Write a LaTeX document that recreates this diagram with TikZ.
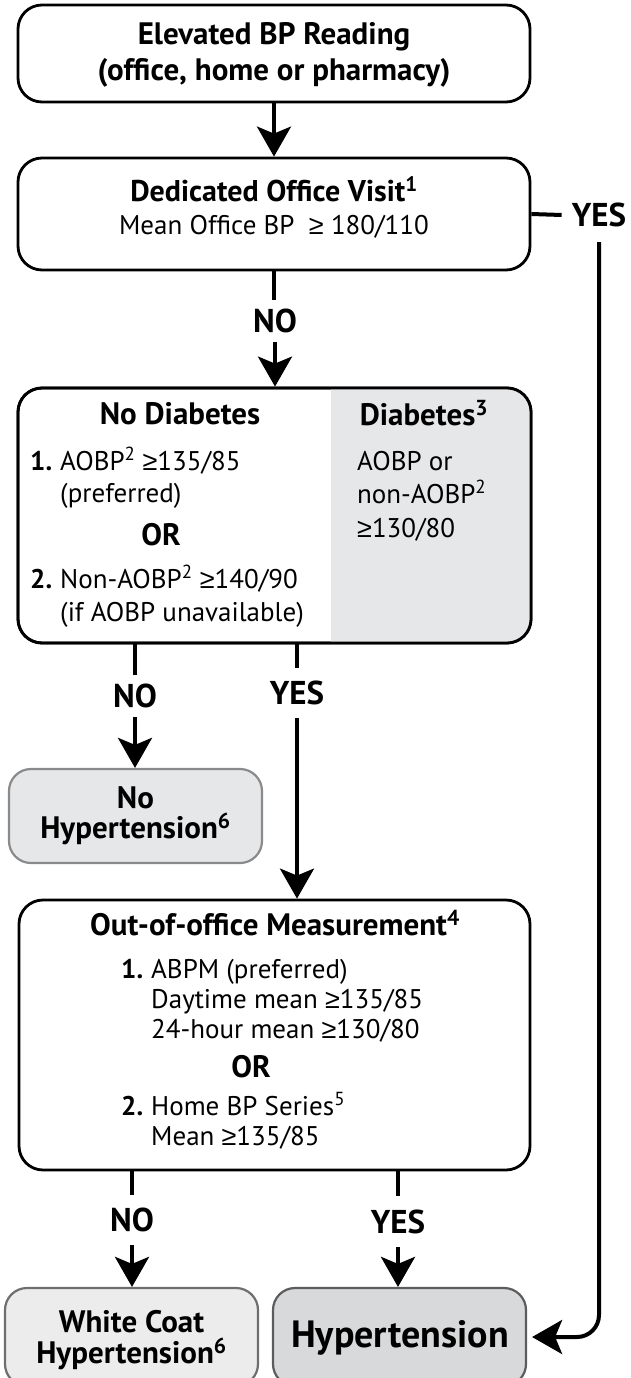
\documentclass[tikz,border=0pt]{standalone}
\usepackage{fontspec}
\setmainfont{PT Sans}
\newfontfamily\symfont{Liberation Sans}
\usetikzlibrary{arrows.meta}
\definecolor{diabgray}{HTML}{E6E7E8}
\definecolor{nohgray}{HTML}{E6E7E8}
\definecolor{nohborder}{HTML}{8A8A8A}
\definecolor{wcgray}{HTML}{ECECEC}
\definecolor{wcborder}{HTML}{6E6E6E}
\definecolor{hypgray}{HTML}{D8D9DB}
\definecolor{hypborder}{HTML}{5C5C5C}
\newcommand\sups[1]{\textsuperscript{#1}}
\newcommand\mygeq{{\symfont ≥}}
\tikzset{
  box/.style={draw, line width=2.8pt, rounded corners=24pt, fill=white, inner sep=0pt},
  endbox/.style={draw, line width=2.2pt, rounded corners=22pt, inner sep=0pt},
  body/.style={inner sep=0pt, font=\fontsize{27}{30}\selectfont},
  hd/.style={inner sep=0pt, font=\bfseries\fontsize{31}{34}\selectfont},
  num/.style={inner sep=0pt, font=\bfseries\fontsize{27}{30}\selectfont},
  lbl/.style={inner xsep=10pt, inner ysep=0pt, font=\bfseries\fontsize{33}{36}\selectfont},
  conn/.style={line width=4pt},
  arr/.style={line width=4pt, -{Stealth[length=30pt, width=34pt, inset=7pt]}},
}
\begin{document}
\begin{tikzpicture}[x=1pt, y=-1pt]
\useasboundingbox (0,0) rectangle (630,1378);
\clip (0,0) rectangle (630,1378);

% Box 1
\node[box, minimum width=512pt, minimum height=97pt] (b1) at (274,53.5) {};
\node[hd, anchor=base] (t1a) at (274,45) {Elevated BP Reading};
\node[hd, anchor=base] (t1b) at (274,81) {(office, home or pharmacy)};

% Box 2
\node[box, minimum width=512pt, minimum height=112pt] (b2) at (274,214) {};
\node[hd, font=\bfseries\fontsize{30}{33}\selectfont, anchor=base] (t2a) at (274,201) {Dedicated Office Visit\sups{1}};
\node[body, anchor=base] (t2b) at (274,234) {Mean Office BP\ \ \mygeq\ 180/110};

% Box 3
\node[box, minimum width=513pt, minimum height=255pt] (b3) at (274.5,515.5) {};
\begin{scope}
  \clip[rounded corners=24pt] (18,388) rectangle (531,643);
  \fill[diabgray] (331,388) rectangle (531,643);
\end{scope}
\node[draw, line width=2.8pt, rounded corners=24pt, inner sep=0pt, minimum width=513pt, minimum height=255pt] (b3frame) at (274.5,515.5) {};
\node[hd, anchor=base] (t3h1) at (180,424) {No Diabetes};
\node[hd, anchor=base] (t3h2) at (424,425) {Diabetes\sups{3}};
\node[num, anchor=base west] (t3n1) at (30,470) {1.};
\node[body, anchor=base west] (t3a) at (60,470) {AOBP\sups{2} \mygeq135/85};
\node[body, anchor=base west] (t3b) at (60,502) {(preferred)};
\node[hd, anchor=base] (t3or) at (161,545) {OR};
\node[num, anchor=base west] (t3n2) at (30,588) {2.};
\node[body, anchor=base west] (t3c) at (60,588) {Non-AOBP\sups{2} \mygeq140/90};
\node[body, anchor=base west] (t3d) at (60,621) {(if AOBP unavailable)};
\node[body, anchor=base west] (t3e) at (357,470) {AOBP or};
\node[body, anchor=base west] (t3f) at (357,503) {non-AOBP\sups{2}};
\node[body, anchor=base west] (t3g) at (357,537) {\mygeq130/80};

% No Hypertension
\node[endbox, draw=nohborder, fill=nohgray, minimum width=253pt, minimum height=94pt] (nohyp) at (135.5,816) {};
\node[hd, anchor=base] (tn1) at (135.5,808) {No};
\node[hd, anchor=base] (tn2) at (135.5,838) {Hypertension\sups{6}};

% Box 4
\node[box, minimum width=511pt, minimum height=270pt] (b4) at (274.5,1035) {};
\node[hd, anchor=base] (t4h) at (275,935) {Out-of-office Measurement\sups{4}};
\node[num, anchor=base west] (t4n1) at (121,978) {1.};
\node[body, anchor=base west] (t4a) at (151,978) {ABPM (preferred)};
\node[body, anchor=base west] (t4b) at (151,1008) {Daytime mean \mygeq135/85};
\node[body, anchor=base west] (t4c) at (151,1038) {24-hour mean \mygeq130/80};
\node[hd, anchor=base] (t4or) at (251,1077) {OR};
\node[num, anchor=base west] (t4n2) at (121,1115) {2.};
\node[body, anchor=base west] (t4d) at (151,1115) {Home BP Series\sups{5}};
\node[body, anchor=base west] (t4e) at (151,1145) {Mean \mygeq135/85};

% End boxes
\node[endbox, draw=wcborder, fill=wcgray, minimum width=253pt, minimum height=98pt] (wc) at (131.5,1337) {};
\node[hd, anchor=base] (tw1) at (131.5,1332) {White Coat};
\node[hd, anchor=base] (tw2) at (131.5,1363) {Hypertension\sups{6}};
\node[endbox, draw=hypborder, fill=hypgray, minimum width=253pt, minimum height=98pt] (hyp) at (399.5,1337) {};
\node[inner sep=0pt, font=\bfseries\fontsize{38}{40}\selectfont, anchor=base] (th) at (400,1347) {Hypertension};

% Labels
\node[lbl, minimum height=42pt] (no1) at (275,321) {NO};
\node[lbl, minimum height=54pt] (yes1) at (599,215) {YES};
\node[lbl, minimum height=42pt] (no2) at (135,696) {NO};
\node[lbl, minimum height=50pt] (yes2) at (297,693) {YES};
\node[lbl, minimum height=50pt] (no3) at (132,1220) {NO};
\node[lbl, minimum height=51pt] (yes3) at (398,1221.5) {YES};

% Connectors
\draw[arr] (b1.south) -- (b2.north);
\draw[conn] (b2.south) -- (b2.south |- no1.north);
\draw[arr] (no1.south) -- (no1.south |- b3.north);
\draw[conn] (b2.east) -- (yes1.west);
\draw[arr, rounded corners=22pt, shorten >=5pt] (yes1.south) |- (hyp.east);
\draw[conn] (no2 |- b3.south) -- (no2.north);
\draw[arr] (no2.south) -- (no2.south |- nohyp.north);
\draw[conn] (yes2 |- b3.south) -- (yes2.north);
\draw[arr] (yes2.south) -- (yes2.south |- b4.north);
\draw[conn] (no3 |- b4.south) -- (no3.north);
\draw[arr] (no3.south) -- (no3.south |- wc.north);
\draw[conn] (yes3 |- b4.south) -- (yes3.north);
\draw[arr] (yes3.south) -- (yes3.south |- hyp.north);
\end{tikzpicture}
\end{document}
